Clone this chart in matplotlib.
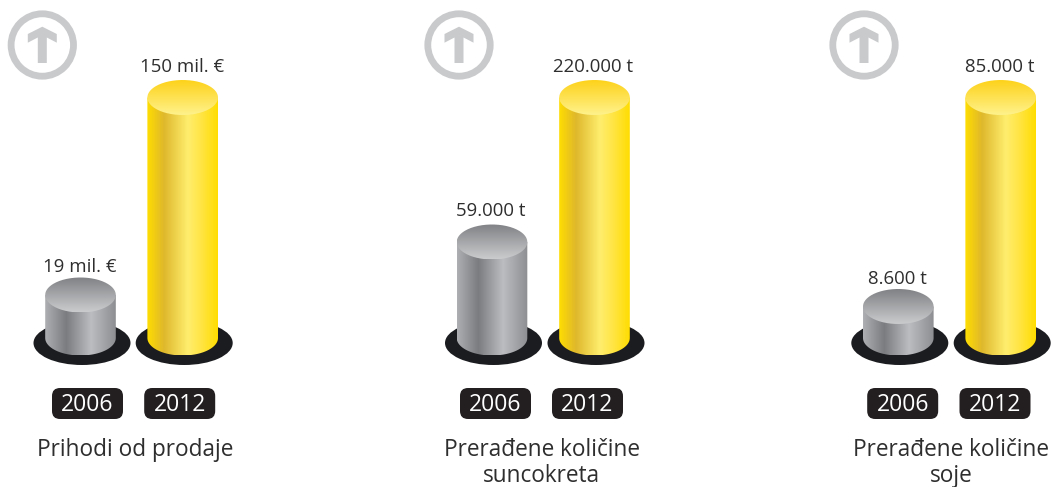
import numpy as np
import matplotlib
matplotlib.use('Agg')
import matplotlib.pyplot as plt
import matplotlib.patches as patches
from matplotlib.colors import LinearSegmentedColormap
from matplotlib.path import Path

plt.rcParams['font.family'] = ['Open Sans', 'DejaVu Sans']

years = ['2006', '2012']
titles = [['Prihodi od prodaje'], ['Prerađene količine', 'suncokreta'], ['Prerađene količine', 'soje']]
labels_2006 = ['19 mil. €', '59.000 t', '8.600 t']
labels_2012 = ['150 mil. €', '220.000 t', '85.000 t']
# bar heights as drawn in the picture, they are not to scale with the labels
heights_2006 = [43, 96, 31.5]
heights_2012 = [240.5, 240.5, 240.5]

gray_x = [80.5, 492, 898.3]
yellow_x = [182.7, 594.5, 1000.7]
pill_x = [[87.5, 179.7], [495.5, 587.5], [902.7, 995]]
icon_x = [42.3, 459, 864]
title_x = [135, 541.5, 951]
gap_2006 = [27.5, 30.5, 28]
gap_2012 = [30, 30, 30]

base_y = 338
rx = 35.3
ry = 17.5

dark = '#1b1c1f'
text_col = '#2e2e2e'
ring_col = '#c9cacc'

gray_side = LinearSegmentedColormap.from_list('gs', [(0, '#aeafb2'), (0.3, '#7b7c7f'), (0.65, '#bcbdc0'), (1, '#8d8e91')])
gray_top = LinearSegmentedColormap.from_list('gt', ['#808184', '#cbccce'])
yellow_side = LinearSegmentedColormap.from_list('ys', [(0, '#ffdd00'), (0.24, '#dfb82c'), (0.58, '#ffee6e'), (0.78, '#ffe440'), (1, '#ffdd00')])
yellow_top = LinearSegmentedColormap.from_list('yt', ['#fdd21a', '#fff28c'])

fig = plt.figure(figsize=(10.53, 4.87), dpi=100)
ax = fig.add_axes([0, 0, 1, 1])
ax.set_xlim(0, 1053)
ax.set_ylim(487, 0)
ax.axis('off')


def fill_gradient(path, extent, cmap, vertical=False, z=3):
	grad = np.linspace(0, 1, 256)
	grad = grad.reshape(-1, 1) if vertical else grad.reshape(1, -1)
	im = ax.imshow(grad, cmap=cmap, extent=extent, aspect='auto', zorder=z, interpolation='bilinear')
	im.set_clip_path(patches.PathPatch(path, transform=ax.transData))


def cylinder(x, height, side, top):
	top_y = base_y - height
	t = np.linspace(0, np.pi, 80)
	# sides and lower rim
	pts = [[x - rx, top_y]] + [[x - rx * np.cos(a), base_y + ry * np.sin(a)] for a in t] + [[x + rx, top_y]]
	fill_gradient(Path(pts), (x - rx, x + rx, base_y + ry, top_y), side, z=3)
	t = np.linspace(0, 2 * np.pi, 160)
	pts = np.column_stack([x + rx * np.cos(t), top_y + ry * np.sin(t)])
	fill_gradient(Path(pts), (x - rx, x + rx, top_y + ry, top_y - ry), top, vertical=True, z=4)


def icon(x):
	y = 45
	ax.add_patch(patches.Circle((x, y), 31.2, fill=False, edgecolor=ring_col, linewidth=4.9))
	arrow = [(x, 26.7), (x + 14.5, 34), (x + 14.5, 42.7), (x + 4.5, 37.5), (x + 4.5, 63), (x - 4.5, 63),
		(x - 4.5, 37.5), (x - 14.5, 42.7), (x - 14.5, 34)]
	ax.add_patch(patches.Polygon(arrow, closed=True, facecolor=ring_col, edgecolor='none'))


for i in range(3):
	icon(icon_x[i])
	for x, h, lab, gap, side, top in [(gray_x[i], heights_2006[i], labels_2006[i], gap_2006[i], gray_side, gray_top),
		(yellow_x[i], heights_2012[i], labels_2012[i], gap_2012[i], yellow_side, yellow_top)]:
		ax.add_patch(patches.Ellipse((x + 1.5, 343), 97, 44, facecolor=dark, edgecolor='none', zorder=2))
		cylinder(x, h, side, top)
		ax.text(x - 1, base_y - h - gap, lab, ha='center', va='center', fontsize=13.4, color=text_col)
	for x, year in zip(pill_x[i], years):
		ax.add_patch(patches.FancyBboxPatch((x - 35.5 + 6, 388 + 6), 71 - 12, 31 - 12,
			boxstyle='round,pad=6,rounding_size=8', facecolor='#231f20', edgecolor='none'))
		ax.text(x, 405, year, ha='center', va='center', fontsize=16.5, color='white')
	for j, line in enumerate(titles[i]):
		ax.text(title_x[i], 450.5 + j * 25, line, ha='center', va='center', fontsize=16.3, color=text_col)

fig.savefig('out.png', dpi=100)
